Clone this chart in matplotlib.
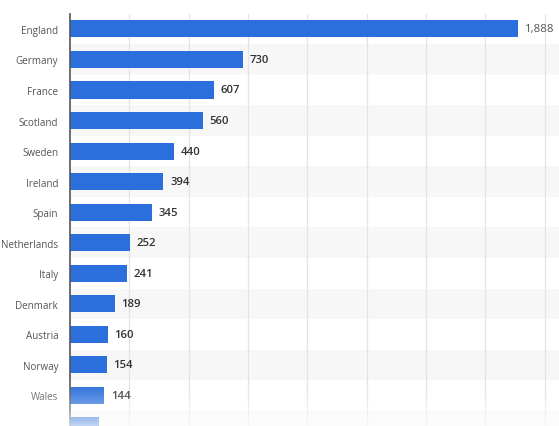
import numpy as np
import matplotlib
matplotlib.use("Agg")
import matplotlib.pyplot as plt

plt.rcParams["font.family"] = ["Open Sans", "DejaVu Sans"]

# Number of players by country
countries = ["England", "Germany", "France", "Scotland", "Sweden", "Ireland",
             "Spain", "Netherlands", "Italy", "Denmark", "Austria", "Norway",
             "Wales", ""]
values = [1888, 730, 607, 560, 440, 394, 345, 252, 241, 189, 160, 154, 144, 122]
grid_ticks = [250, 500, 750, 1000, 1250, 1500, 1750, 2000]

bar_color = "#2a6fdb"
W, H = 559, 427

fig = plt.figure(figsize=(W / 100, H / 100), dpi=100)
top_px = 14.6
ax = fig.add_axes([70 / W, 0, 1 - 70 / W, (H - top_px) / H])

y = np.arange(len(countries))

# alternating row stripes
for i in y:
    if i % 2 == 1:
        ax.axhspan(i - 0.5, i + 0.5, color="#f7f7f7", zorder=0, lw=0)

ax.barh(y, values, height=0.56, color=bar_color, zorder=3)

for i, v in zip(y, values):
    if countries[i] == "":
        continue
    ax.text(v + 28, i, f"{v:,}", va="center", ha="left", fontsize=8.2,
            color="#333333" if v < 1000 else "#555555",
            fontweight="semibold" if v < 1000 else "normal", zorder=4)

ax.set_xlim(0, 2061)
ax.set_ylim((H - 30) / 30.75, -0.5)
ax.set_yticks(y)
ax.set_yticklabels(countries, fontsize=7.1, color="#555555")
ax.tick_params(axis="y", length=0, pad=8.5)
ax.set_xticks(grid_ticks)
ax.tick_params(axis="x", length=0, labelbottom=False)
ax.grid(axis="x", color="#e4e4e4", lw=0.9, zorder=1)
ax.set_axisbelow(True)

for s in ["top", "right", "bottom"]:
    ax.spines[s].set_visible(False)
ax.spines["left"].set_color("#555555")
ax.spines["left"].set_linewidth(1.2)
ax.spines["left"].set_zorder(5)

# white fade at the bottom edge
fade = fig.add_axes([0, 0, 1, 48 / H], zorder=10)
fade.axis("off")
grad = np.zeros((100, 2, 4))
grad[..., :3] = 1.0
grad[..., 3] = np.linspace(0.78, 0.0, 100)[:, None] ** 1.4
fade.imshow(grad, aspect="auto", extent=[0, 1, 0, 1], origin="lower")
fade.set_xlim(0, 1)
fade.set_ylim(0, 1)

fig.savefig("out.png", dpi=100)
